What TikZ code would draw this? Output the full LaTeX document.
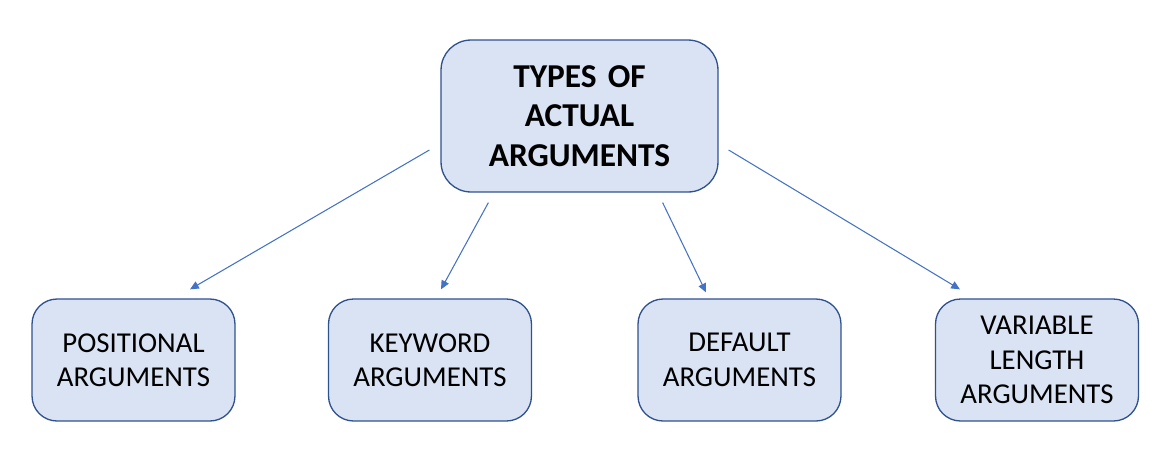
\documentclass[tikz,border=0pt]{standalone}
\usepackage{fontspec}
\setmainfont{Carlito}
\usetikzlibrary{arrows.meta, positioning}
\definecolor{boxFill}{RGB}{218, 227, 243}
\definecolor{boxLine}{RGB}{47, 82, 143}
\definecolor{arrowBlue}{RGB}{68, 114, 196}
\tikzset{
  topbox/.style={
    rectangle, rounded corners=0.6cm,
    draw=boxLine, line width=0.75pt,
    fill=boxFill,
    minimum width=5.54cm, minimum height=3.04cm,
    text width=5cm, align=center,
    font=\fontsize{19}{22.6}\selectfont\bfseries, inner sep=0pt
  },
  kindbox/.style={
    rectangle, rounded corners=0.5cm,
    draw=boxLine, line width=0.75pt,
    fill=boxFill,
    minimum width=4.06cm, minimum height=2.44cm,
    text width=3.8cm, align=center,
    font=\fontsize{16.4}{19.6}\selectfont, inner sep=0pt
  },
  myarrow/.style={-{Triangle[length=5pt,width=4.5pt]}, line width=0.6pt, color=arrowBlue}
}
\begin{document}
\begin{tikzpicture}[x=0.02cm, y=-0.02cm]

\useasboundingbox (0,0) rectangle (1173,471);

%% TOP
\node[topbox] (types) at (579.5, 116) {TYPES OF\\ACTUAL\\ARGUMENTS};

%% BOTTOM ROW
\node[kindbox] (positional) at (133.5, 360) {POSITIONAL\\ARGUMENTS};
\node[kindbox] (keyword) at (430, 360) {KEYWORD\\ARGUMENTS};
\node[kindbox] (default) at (739.5, 360) {DEFAULT\\ARGUMENTS};
\node[kindbox] (variable) at (1037, 360) {VARIABLE\\LENGTH\\ARGUMENTS};

%% ARROWS
\draw[myarrow] ([shift={(-11,34)}]types.west) -- ([shift={(56.5,-9)}]positional.north);
\draw[myarrow] ([shift={(48,10)}]types.south west) -- ([shift={(11,-9)}]keyword.north);
\draw[myarrow] ([shift={(-56,10)}]types.south east) -- ([shift={(-33.5,-6)}]default.north);
\draw[myarrow] ([shift={(10,34)}]types.east) -- ([shift={(-77,-9)}]variable.north);

\end{tikzpicture}
\end{document}
